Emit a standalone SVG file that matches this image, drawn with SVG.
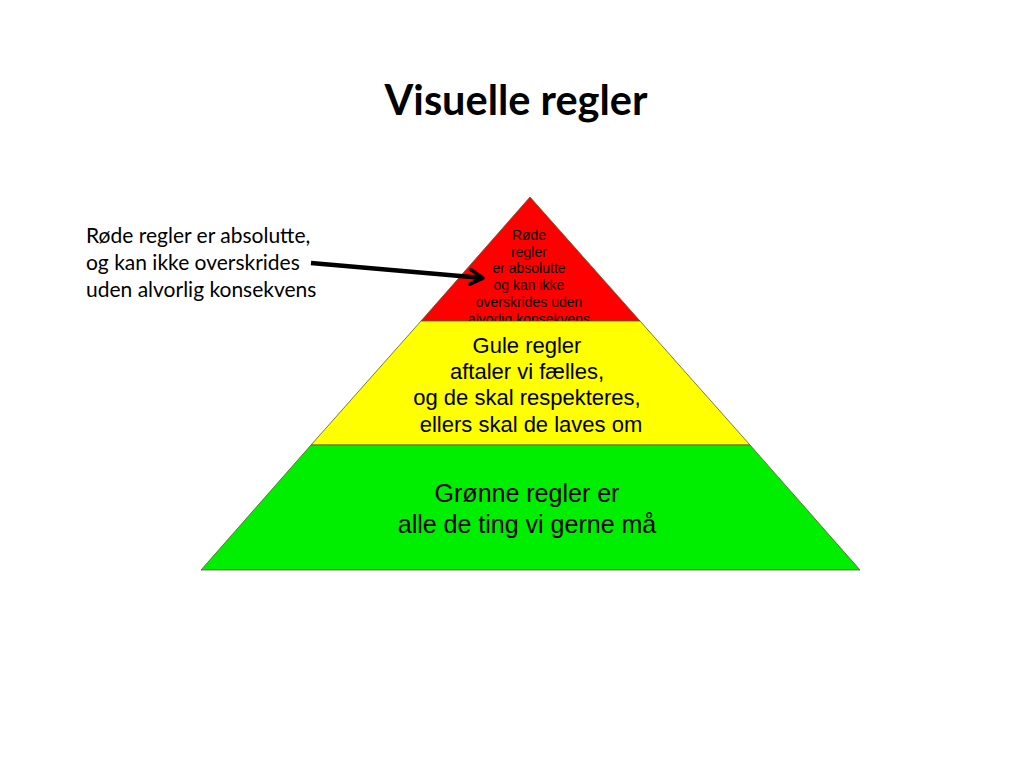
<svg xmlns="http://www.w3.org/2000/svg" width="1024" height="768" viewBox="0 0 1024 768">
<style>
.lvl{stroke:#5a5a2a;stroke-width:0.8}
.t{font-family:"Liberation Sans",Arial,sans-serif;text-anchor:middle;fill:#000}
.c{font-family:Lato,"Open Sans",sans-serif;fill:#000}
</style>
<defs>
<marker id="ah" viewBox="0 0 10 10" refX="8" refY="5" markerWidth="4" markerHeight="4" orient="auto" markerUnits="strokeWidth">
<path d="M1,1 L8,5 L1,9" fill="none" stroke="#000" stroke-width="2" stroke-linecap="round" stroke-linejoin="round"/>
</marker>
</defs>
<rect width="1024" height="768" fill="#fff"/>
<text x="516" y="115" class="c" font-size="41.5" font-weight="bold" text-anchor="middle">Visuelle regler</text>
<g id="red">
<polygon class="lvl" points="530,197 640,321 421,321" fill="#ff0000"/>
<text class="t" font-size="14" fill="#200"><tspan x="529" y="240">Røde</tspan><tspan x="529" y="256.7">regler</tspan><tspan x="529" y="273.4">er absolutte</tspan><tspan x="529" y="290.1">og kan ikke</tspan><tspan x="529" y="306.8">overskrides uden</tspan><tspan x="529" y="323.5">alvorlig konsekvens</tspan></text>
</g>
<g id="yellow">
<polygon class="lvl" points="421,321 640,321 750,445 311,445" fill="#ffff00"/>
<text class="t" font-size="22"><tspan x="527" y="353">Gule regler</tspan><tspan x="527" y="379">aftaler vi fælles,</tspan><tspan x="527" y="405">og de skal respekteres,</tspan><tspan x="531" y="432">ellers skal de laves om</tspan></text>
</g>
<g id="green">
<polygon class="lvl" points="311,445 750,445 860,570 201,570" fill="#00ee00"/>
<text class="t" font-size="25"><tspan x="527" y="502">Grønne regler er</tspan><tspan x="527" y="533">alle de ting vi gerne må</tspan></text>
</g>
<g id="note">
<text class="c" font-size="21"><tspan x="86" y="243">Røde regler er absolutte,</tspan><tspan x="86" y="270">og kan ikke overskrides</tspan><tspan x="86" y="297">uden alvorlig konsekvens</tspan></text>
</g>
<g id="connectors">
<line x1="311" y1="263" x2="483" y2="278" stroke="#000" stroke-width="4.5" marker-end="url(#ah)"/>
</g>
</svg>
